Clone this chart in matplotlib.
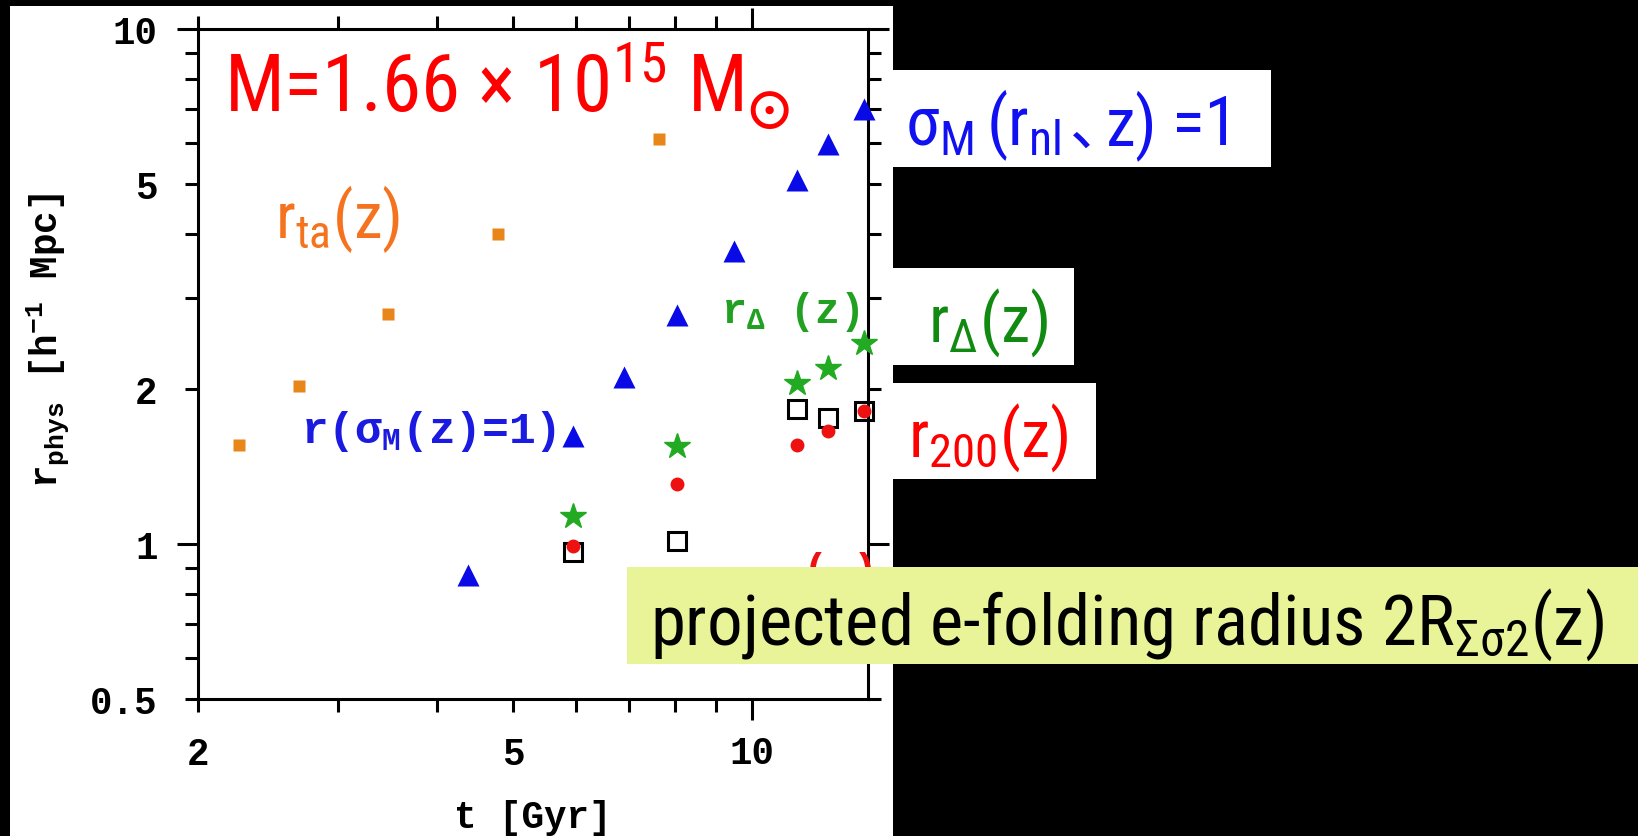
import numpy as np
import matplotlib
matplotlib.use("Agg")
import matplotlib.pyplot as plt
from matplotlib import font_manager
from matplotlib.patches import Rectangle
from matplotlib.ticker import LogLocator, FuncFormatter

# ---------------------------------------------------------------- data
# cosmic time of each snapshot [Gyr] and physical radius [h^-1 Mpc]
t_turnaround = [2.25, 2.68, 3.47, 4.78, 7.63]
r_turnaround = [1.56, 2.03, 2.80, 4.00, 6.11]

t_sigma1 = [4.38, 5.95, 6.89, 8.04, 9.50, 11.38, 12.48, 13.82]
r_sigma1 = [0.87, 1.62, 2.11, 2.78, 3.70, 5.08, 5.98, 6.99]

t_delta = [5.95, 8.04, 11.38, 12.48, 13.82]
r_delta = [1.135, 1.55, 2.05, 2.20, 2.46]

t_efold = [5.95, 8.04, 11.38, 12.48, 13.82]
r_efold = [0.965, 1.015, 1.83, 1.76, 1.815]

t_r200 = [5.95, 8.04, 11.38, 12.48, 13.82]
r_r200 = [0.99, 1.31, 1.56, 1.66, 1.815]

x_range = [2, 14]
y_range = [0.5, 10]
xtick_labels = [2, 5, 10]
ytick_labels = [0.5, 1, 2, 5, 10]

# ---------------------------------------------------------------- fonts
W, H, DPI = 1638, 837, 100
_names = {f.name for f in font_manager.fontManager.ttflist}


def pick(cands):
    for c in cands:
        if c in _names:
            return c
    return cands[-1]


SANS = pick(["Liberation Sans Narrow", "Arial Narrow", "Roboto Condensed",
             "Open Sans Condensed", "Liberation Sans"])
MONO = pick(["Liberation Mono", "DejaVu Sans Mono"])
CJK = "Noto Sans CJK JP"

plt.rcParams["font.family"] = MONO
plt.rcParams["font.weight"] = "bold"
plt.rcParams["mathtext.fontset"] = "dejavusans"
plt.rcParams["mathtext.default"] = "regular"


def fx(x):
    return x / W


def fy(y):
    return 1 - y / H


fig = plt.figure(figsize=(W / DPI, H / DPI), dpi=DPI, facecolor="black")

# white panel holding the plot
fig.patches.append(Rectangle((fx(10), fy(837)), (893 - 10) / W, (837 - 7) / H,
                             transform=fig.transFigure, facecolor="white",
                             edgecolor="none", zorder=-10))

ax = fig.add_axes([fx(198), fy(700), 670 / W, 670 / H])
ax.set_facecolor("white")
ax.set_xscale("log")
ax.set_yscale("log")
ax.set_xlim(*x_range)
ax.set_ylim(*y_range)

for sp in ax.spines.values():
    sp.set_linewidth(2.2)


def label_fmt(values):
    def f(v, pos):
        for s in values:
            if abs(v - s) < 1e-6 * s:
                return f"{s:g}"
        return ""
    return FuncFormatter(f)


for axis, labels in ((ax.xaxis, xtick_labels), (ax.yaxis, ytick_labels)):
    axis.set_major_locator(LogLocator(base=10))
    axis.set_minor_locator(LogLocator(base=10, subs=np.arange(2, 10)))
    axis.set_major_formatter(label_fmt(labels))
    axis.set_minor_formatter(label_fmt(labels))

ax.tick_params(which="both", direction="out", width=2.2, top=True, right=True,
               labelsize=27, colors="black")
ax.tick_params(which="major", length=15)
ax.tick_params(which="minor", length=9.4)
ax.tick_params(axis="y", which="major", pad=14)
ax.tick_params(axis="y", which="minor", pad=20)
ax.tick_params(axis="x", which="major", pad=11)
ax.tick_params(axis="x", which="minor", pad=17)
for lab in ax.get_xticklabels(which="both") + ax.get_yticklabels(which="both"):
    lab.set_fontweight("bold")

# ---------------------------------------------------------------- markers
ax.plot(t_turnaround, r_turnaround, "s", ms=9, color="#e8861a", mec="none",
        clip_on=False, zorder=3)
ax.plot(t_sigma1, r_sigma1, "^", ms=16, color="#0a0ae6", mec="none",
        clip_on=False, zorder=3)
ax.plot(t_delta, r_delta, "*", ms=19, color="#22aa22", mec="#22aa22",
        clip_on=False, zorder=3)
ax.plot(t_efold, r_efold, "s", ms=13, mfc="none", mec="black", mew=2.2,
        clip_on=False, zorder=3)
ax.plot(t_r200, r_r200, "o", ms=10, color="#ee1111", mec="none",
        clip_on=False, zorder=4)

# labels inside the plot
fig.text(fx(301), fy(443), r"r(σ$_{M}$(z)=1)", color="#1a1ae0", family=MONO,
         weight="bold", size=32, va="baseline", ha="left")
fig.text(fx(721), fy(323), r"r$_{Δ}$ (z)", color="#22a022", family=MONO,
         weight="bold", size=30, va="baseline", ha="left")
fig.text(fx(803), fy(583), "( )", color="#ee1111", family=MONO,
         weight="bold", size=30, va="baseline", ha="left")

# axis titles
fig.text(fx(533), fy(818), "t [Gyr]", family=MONO, weight="bold", size=27,
         ha="center", va="center")
fig.text(fx(47), fy(340), r"r$_{phys}$ [h$^{-1}$ Mpc]", family=MONO,
         weight="bold", size=27, rotation=90, ha="center", va="center")

# ---------------------------------------------------------------- annotations
fig.text(fx(224), fy(112), r"M=1.66 × 10$^{15}$ M$_{\odot}$", family=SANS,
         weight="normal", size=57, color="#ff0000", va="baseline", ha="left")
fig.text(fx(275), fy(238), r"r$_{ta}$(z)", family=SANS, weight="normal",
         size=47, color="#f5731f", va="baseline", ha="left")


def box(x0, y0, x1, y1, color):
    fig.patches.append(Rectangle((fx(x0), fy(y1)), (x1 - x0) / W, (y1 - y0) / H,
                                 transform=fig.transFigure, facecolor=color,
                                 edgecolor="none", zorder=5))


def btext(x, y, s, color, family=SANS, size=48):
    fig.text(fx(x), fy(y), s, family=family, weight="normal", size=size,
             color=color, va="baseline", ha="left", zorder=6)


box(893, 71, 1271, 168, "white")
blue = "#1010f0"
btext(905, 145, r"σ$_{M}$", blue, size=49)
btext(986, 145, r"(r$_{nl}$", blue, size=49)
btext(1070, 145, "、", blue, family=CJK, size=42)
btext(1106, 145, "z)", blue, size=49)
btext(1172, 145, "=1", blue, size=49)

box(893, 269, 1074, 366, "white")
btext(928, 342, r"r$_{Δ}$(z)", "#118a11")

box(893, 384, 1096, 480, "white")
btext(908, 457, r"r$_{200}$(z)", "#ff0000")

box(627, 568, 1638, 665, "#e9f397")
btext(650, 645, r"projected e-folding radius 2R$_{Σσ2}$(z)", "black", size=51)

fig.savefig("out.png", dpi=DPI, facecolor="black")
